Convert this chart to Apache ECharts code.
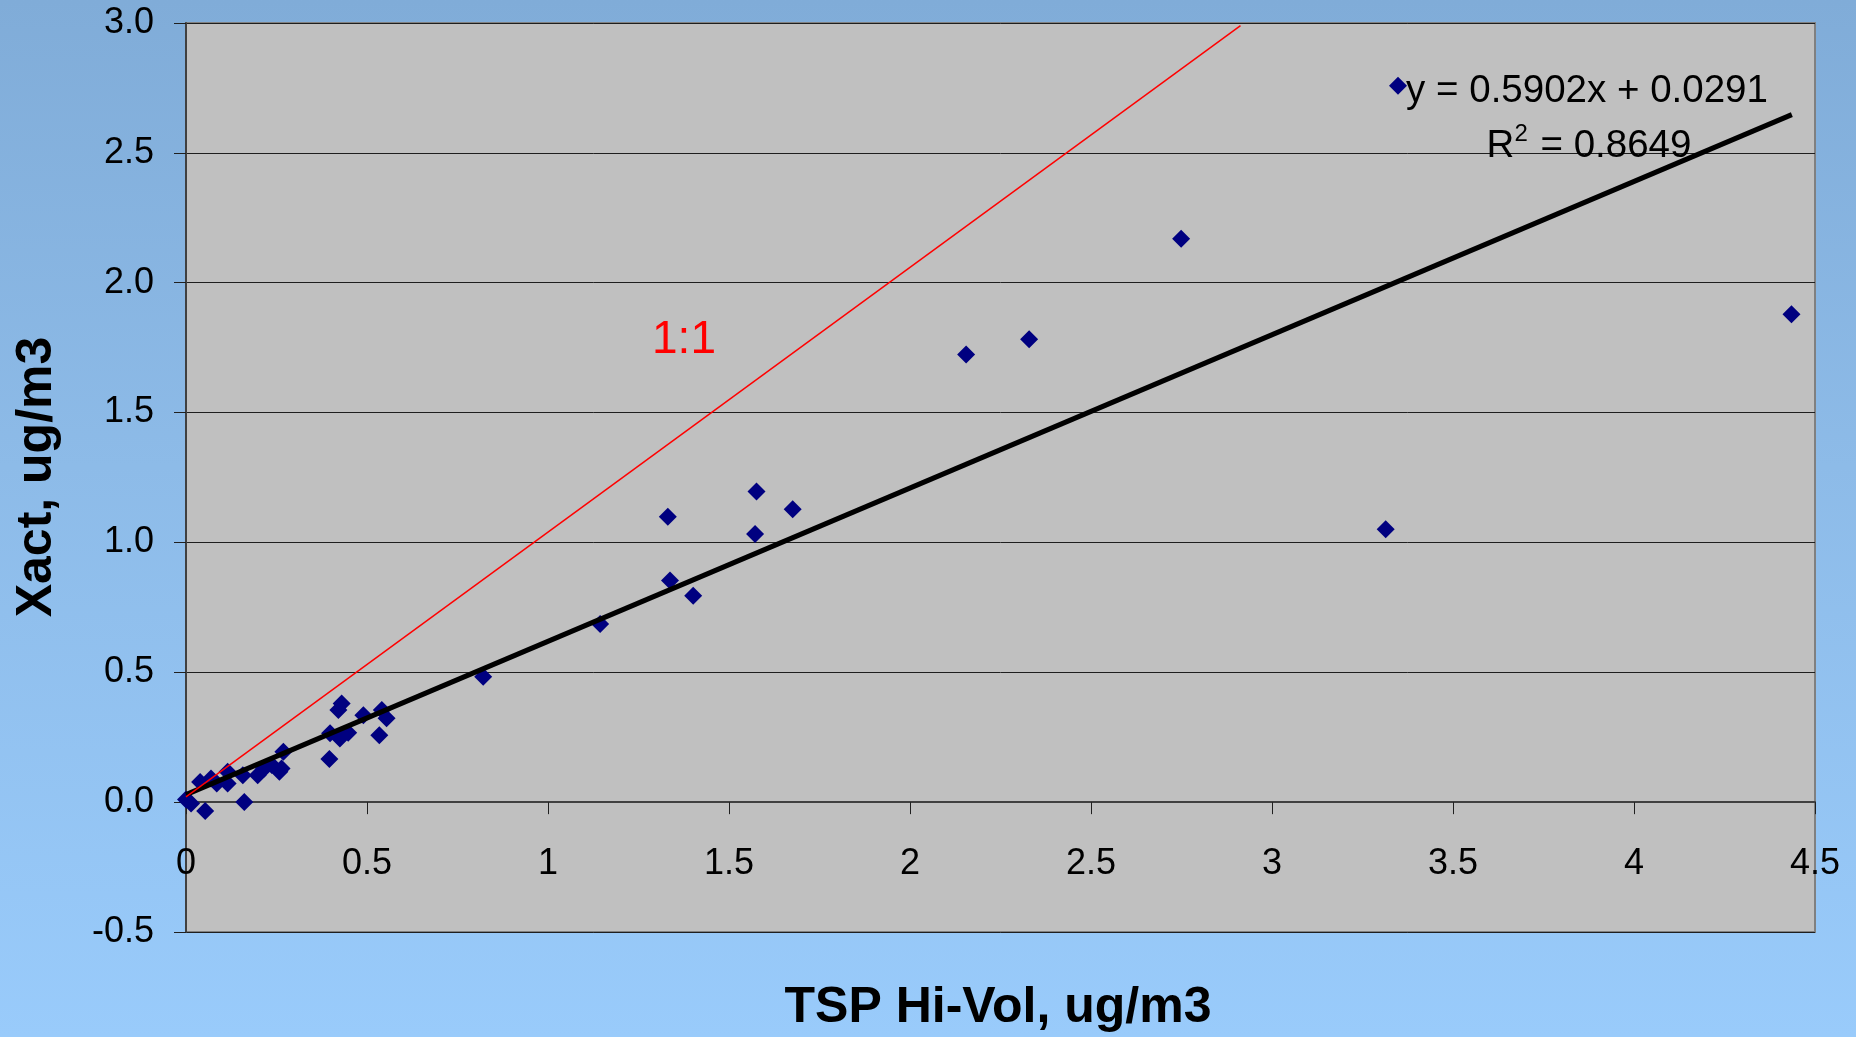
<!DOCTYPE html>
<html>
<head>
<meta charset="utf-8">
<title>Xact vs TSP Hi-Vol</title>
<script src="https://cdn.jsdelivr.net/npm/echarts@6/dist/echarts.min.js"></script>
<style>
  html, body { margin: 0; padding: 0; }
  #chart {
    width: 1856px; height: 1037px;
    background: linear-gradient(to bottom, #80acd8 0%, #8dbbe8 45%, #99cbfb 100%);
  }
</style>
</head>
<body>
<div id="chart"></div>
<script>
// Paired samples: TSP Hi-Vol (x) against Xact (y), ug/m3
const tspHiVol = [
  0.000, 0.014, 0.053, 0.039, 0.069, 0.085, 0.115, 0.115, 0.157, 0.161,
  0.198, 0.216, 0.237, 0.258, 0.264, 0.269, 0.396, 0.398, 0.425, 0.448,
  0.421, 0.430, 0.490, 0.534, 0.541, 0.554, 0.821, 1.144, 1.331, 1.337,
  1.401, 1.572, 1.576, 1.676, 2.155, 2.329, 2.749, 3.314, 3.348, 4.435
];
const xact = [
  0.010, -0.005, -0.034, 0.078, 0.091, 0.072, 0.117, 0.072, 0.104, 0.001,
  0.104, 0.130, 0.143, 0.117, 0.130, 0.194, 0.166, 0.265, 0.245, 0.267,
  0.355, 0.380, 0.335, 0.258, 0.355, 0.323, 0.483, 0.686, 1.099, 0.853,
  0.795, 1.032, 1.196, 1.128, 1.724, 1.782, 2.169, 1.051, 2.758, 1.879
];

// Least-squares fit reported on the chart
const fitSlope = 0.5902;
const fitIntercept = 0.0291;
const fitR2 = 0.8649;
const fitXRange = [0, 4.436];

// Reference line labelled 1:1
const refLineX = [0, 2.913];
const refLineY = [0.02, 2.99];

// Axis ranges and ticks
const xTicks = [0, 0.5, 1, 1.5, 2, 2.5, 3, 3.5, 4, 4.5];
const yTicks = [-0.5, 0.0, 0.5, 1.0, 1.5, 2.0, 2.5, 3.0];

const points = tspHiVol.map((x, i) => [x, xact[i]]);
const fitLine = fitXRange.map(x => [x, fitSlope * x + fitIntercept]);
const refLine = refLineX.map((x, i) => [x, refLineY[i]]);

const FONT = '"Liberation Sans", Arial, sans-serif';

const chart = echarts.init(document.getElementById('chart'), null, { renderer: 'canvas' });

chart.setOption({
  backgroundColor: 'transparent',
  animation: false,
  grid: {
    left: 186, top: 23, width: 1629, height: 909,
    show: true,
    backgroundColor: '#c0c0c0',
    borderColor: '#808080',
    borderWidth: 2,
    containLabel: false,
    outerBoundsMode: 'none'
  },
  xAxis: {
    type: 'value',
    min: xTicks[0], max: xTicks[xTicks.length - 1], interval: 0.5,
    axisLine: { show: true, onZero: true, lineStyle: { color: '#404040', width: 2 } },
    axisTick: { show: true, inside: false, length: 12, lineStyle: { color: '#202020', width: 1 } },
    axisLabel: {
      show: true, margin: -86, color: '#000', fontSize: 36, fontFamily: FONT,
      showMinLabel: true, showMaxLabel: true,
      formatter: v => String(v)
    },
    splitLine: { show: false }
  },
  yAxis: {
    type: 'value',
    min: yTicks[0], max: yTicks[yTicks.length - 1], interval: 0.5,
    axisLine: { show: true, onZero: false, lineStyle: { color: '#404040', width: 2 } },
    axisTick: { show: true, inside: false, length: 12, lineStyle: { color: '#202020', width: 1 } },
    axisLabel: {
      show: true, margin: 32, color: '#000', fontSize: 36, fontFamily: FONT,
      showMinLabel: true, showMaxLabel: true,
      formatter: v => v.toFixed(1)
    },
    splitLine: { show: true, lineStyle: { color: '#1e1e1e', width: 1 } }
  },
  series: [
    {
      name: 'Xact vs TSP Hi-Vol',
      type: 'scatter',
      data: points,
      symbol: 'diamond',
      symbolSize: 18,
      itemStyle: { color: '#000080', opacity: 1 },
      z: 2
    },
    {
      name: 'Linear fit',
      type: 'line',
      data: fitLine,
      symbol: 'none',
      lineStyle: { color: '#000', width: 5 },
      z: 3
    },
    {
      name: '1:1',
      type: 'line',
      data: refLine,
      symbol: 'none',
      lineStyle: { color: '#ff0000', width: 1.5 },
      z: 4
    }
  ],
  graphic: [
    {
      type: 'text', x: 1587, y: 91, z: 10,
      style: {
        text: 'y = ' + fitSlope.toFixed(4) + 'x + ' + fitIntercept.toFixed(4),
        font: '38.5px ' + FONT, fill: '#000',
        textAlign: 'center', textVerticalAlign: 'middle'
      }
    },
    {
      type: 'text', x: 1589, y: 144, z: 10,
      style: {
        text: '{b|R}{s|2}{b| = ' + fitR2.toFixed(4) + '}',
        textAlign: 'center', textVerticalAlign: 'middle',
        rich: {
          b: { fontSize: 38.5, fontFamily: FONT, fill: '#000', color: '#000', lineHeight: 44, verticalAlign: 'bottom' },
          s: { fontSize: 24, fontFamily: FONT, fill: '#000', color: '#000', lineHeight: 44, verticalAlign: 'top', padding: [0, 2, 16, 0] }
        }
      }
    },
    {
      type: 'text', x: 684, y: 340, z: 10,
      style: {
        text: '1:1', font: '46px ' + FONT, fill: '#ff0000',
        textAlign: 'center', textVerticalAlign: 'middle'
      }
    },
    {
      type: 'text', x: 998, y: 1008, z: 10,
      style: {
        text: 'TSP Hi-Vol, ug/m3', font: 'bold 50px ' + FONT, fill: '#000',
        textAlign: 'center', textVerticalAlign: 'middle'
      }
    },
    {
      type: 'text', x: 37, y: 477, rotation: Math.PI / 2, z: 10,
      style: {
        text: 'Xact, ug/m3', font: 'bold 50px ' + FONT, fill: '#000',
        textAlign: 'center', textVerticalAlign: 'middle'
      }
    }
  ]
});
</script>
</body>
</html>
